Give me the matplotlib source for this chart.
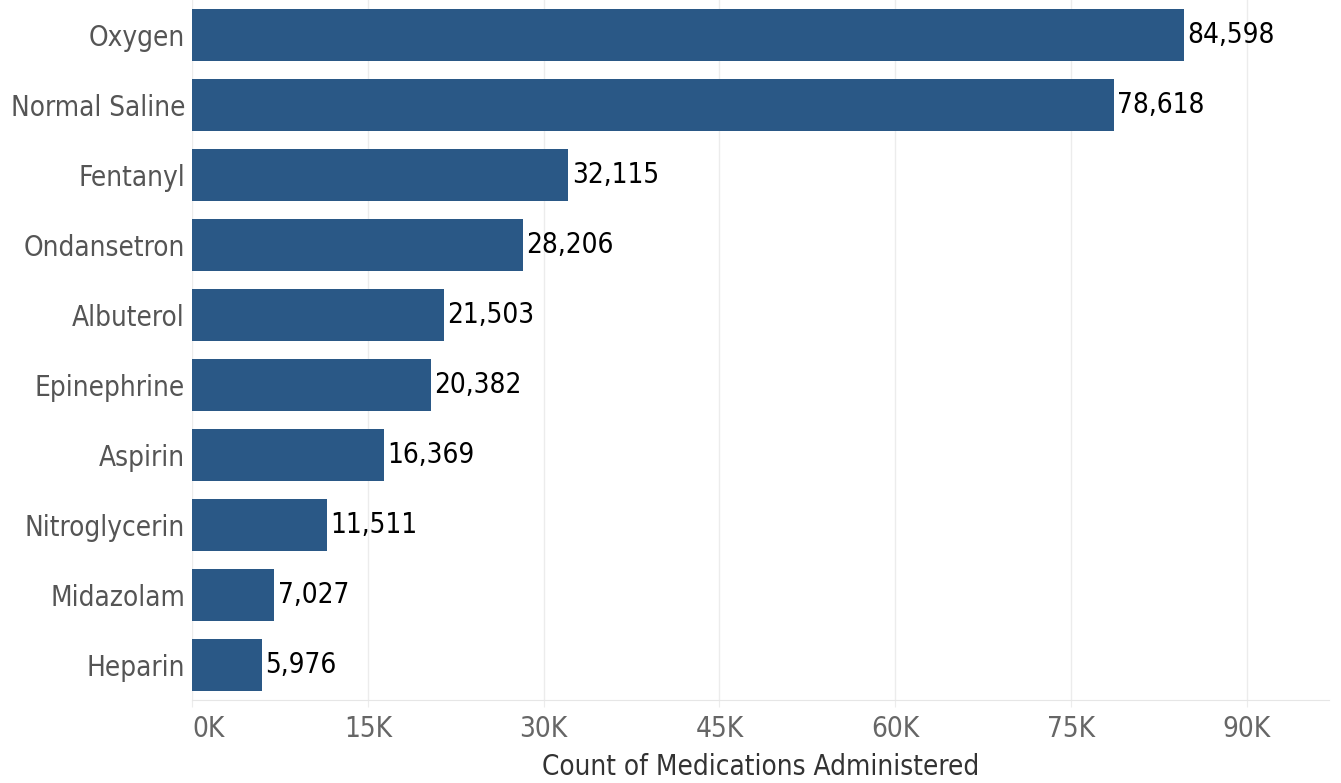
import matplotlib
matplotlib.use("Agg")
import matplotlib.pyplot as plt

# medications, most administered first
meds = ["Oxygen", "Normal Saline", "Fentanyl", "Ondansetron", "Albuterol",
        "Epinephrine", "Aspirin", "Nitroglycerin", "Midazolam", "Heparin"]
counts = [84598, 78618, 32115, 28206, 21503, 20382, 16369, 11511, 7027, 5976]
xticks = [0, 15000, 30000, 45000, 60000, 75000, 90000]
xtick_labels = ["0K", "15K", "30K", "45K", "60K", "75K", "90K"]

plt.rcParams["font.family"] = ["DejaVu Sans"]
plt.rcParams["font.stretch"] = "condensed"

fig = plt.figure(figsize=(13.41, 7.83), dpi=100)
ax = fig.add_axes([192 / 1341, 83 / 783, (1329 - 192) / 1341, 700 / 783])

ypos = list(range(len(meds)))
ax.barh(ypos, counts, height=0.74, color="#2a5886")

for y, c in zip(ypos, counts):
    ax.text(c + 300, y, f"{c:,}", va="center", ha="left", fontsize=20, color="black")

ax.set_ylim(len(meds) - 0.5, -0.5)
ax.set_xlim(0, 97000)
ax.set_yticks(ypos)
ax.set_yticklabels(meds, fontsize=20, color="#555555")
ax.set_xticks(xticks)
ax.set_xticklabels(xtick_labels, fontsize=20, color="#666666")
ax.tick_params(axis="x", length=5, color="#ececec", pad=6)
ax.tick_params(axis="y", length=0, pad=5)

# keep the 0K label inside the plot edge
ax.get_xticklabels()[0].set_horizontalalignment("left")

ax.grid(axis="x", color="#ececec", linewidth=1)
ax.set_axisbelow(True)
for side in ["top", "right", "left"]:
    ax.spines[side].set_visible(False)
ax.spines["bottom"].set_color("#e6e6e6")

ax.set_xlabel("Count of Medications Administered", fontsize=20, color="#333333", labelpad=7)

fig.savefig("out.png", dpi=100)
